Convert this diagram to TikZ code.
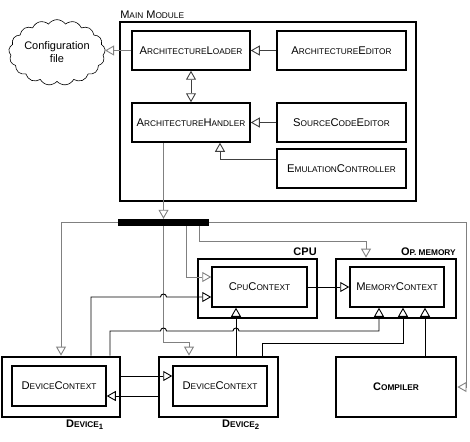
\documentclass[tikz,border=0pt]{standalone}
\usepackage{fontspec}
\setmainfont{Liberation Sans}
\usetikzlibrary{arrows.meta,shapes.symbols}

\newcommand{\lc}[1]{{\fontsize{8.3}{10}\selectfont #1}}

\tikzset{
  outerbox/.style={draw, line width=2.8pt, inner sep=0pt},
  innerbox/.style={draw, line width=1.5pt, inner sep=0pt, minimum width=118pt, minimum height=39pt, font=\fontsize{11.2}{13}\selectfont},
  wire/.style={line width=0.9pt, -{Triangle[open,length=9pt,width=10pt]}},
  busline/.style={wire, gray},
  title/.style={font=\bfseries\fontsize{11}{13}\selectfont, inner sep=1.5pt}
}

\begin{document}
\begin{tikzpicture}[x=1pt, y=-1pt]
  \useasboundingbox (0,0) rectangle (470,441);

  % main module
  \node[outerbox, minimum width=296pt, minimum height=179pt] (main) at (268,111.5) {};
  \node[anchor=south west, inner sep=1.5pt, font=\fontsize{11}{13}\selectfont] at (main.north west) {M\lc{AIN} M\lc{ODULE}};
  \node[innerbox] (loader) at (191,50.5) {A\lc{RCHITECTURE}L\lc{OADER}};
  \node[innerbox, minimum width=129pt] (archeditor) at (341.5,50.5) {A\lc{RCHITECTURE}E\lc{DITOR}};
  \node[innerbox] (handler) at (191,122.5) {A\lc{RCHITECTURE}H\lc{ANDLER}};
  \node[innerbox, minimum width=129pt] (srceditor) at (341.5,122.5) {S\lc{OURCE}C\lc{ODE}E\lc{DITOR}};
  \node[innerbox, minimum width=129pt] (emulator) at (341.5,168.5) {E\lc{MULATION}C\lc{ONTROLLER}};
  \node[cloud, draw, cloud puffs=17, cloud puff arc=110, aspect=1.6, minimum width=85pt, minimum height=55pt,
        inner sep=0pt, line width=0.6pt, align=center, font=\fontsize{11}{13}\selectfont] (config) at (57,52.5) {Configuration\\file};

  \draw[wire, black!75] (archeditor) -- (loader);
  \draw[wire, black!75] (srceditor) -- (handler);
  \draw[wire, black!75] ([yshift=9.5pt]emulator.west) -| ([xshift=29pt]handler.south);
  \draw[wire, black!75, {Triangle[open,length=9pt,width=10pt]}-{Triangle[open,length=9pt,width=10pt]}] (loader) -- (handler);
  \draw[wire, gray] (loader.west) -- (loader.west -| config.east);

  % bus
  \node[fill=black, minimum width=91pt, minimum height=7pt, inner sep=0pt] (bus) at (163.5,222.5) {};

  % cpu and memory
  \node[outerbox, minimum width=119pt, minimum height=59pt] (cpu) at (257.5,288.5) {};
  \node[innerbox, minimum width=95pt, minimum height=40pt] (cpuctx) at (259.5,287) {C\lc{PU}C\lc{ONTEXT}};
  \node[title, anchor=south east] at (cpu.north east) {CPU};
  \node[outerbox, minimum width=120pt, minimum height=59pt] (mem) at (396,288.5) {};
  \node[innerbox, minimum width=94pt, minimum height=40pt] (memctx) at (397,287) {M\lc{EMORY}C\lc{ONTEXT}};
  \node[title, anchor=south east] at (mem.north east) {O\lc{P. MEMORY}};

  % devices and compiler
  \node[outerbox, minimum width=118pt, minimum height=60pt] (dev1) at (61,387) {};
  \node[innerbox, minimum width=94pt, minimum height=40pt] (devctx1) at (59,386) {D\lc{EVICE}C\lc{ONTEXT}};
  \node[title, anchor=north east] at ([xshift=-16pt]dev1.south east) {D\lc{EVICE}\textsubscript{1}};
  \node[outerbox, minimum width=119pt, minimum height=60pt] (dev2) at (218.5,387) {};
  \node[innerbox, minimum width=94pt, minimum height=40pt] (devctx2) at (220,386) {D\lc{EVICE}C\lc{ONTEXT}};
  \node[title, anchor=north east] at ([xshift=-18pt]dev2.south east) {D\lc{EVICE}\textsubscript{2}};
  \node[outerbox, minimum width=120pt, minimum height=60pt, font=\bfseries\fontsize{11}{13}\selectfont] (compiler) at (396,387) {C\lc{OMPILER}};

  \coordinate (rbend) at (466,387);
  \coordinate (membend) at (366,241);
  \coordinate (devbend) at (189,342);
  \coordinate (dev2bend) at (262,343);
  \coordinate (hopA) at (163.5,297);
  \coordinate (hopB) at (163.5,331);
  \coordinate (hopC) at (236,331);

  % bus connections
  \draw[busline] (handler.south -| bus.north) -- (bus.north);
  \draw[busline] (bus.west) -| (dev1.north);
  \draw[busline] (bus.east) -| (rbend) -- (compiler.east);
  \draw[busline] ([xshift=22.5pt]bus.south) |- ([yshift=10pt]cpuctx.west);
  \draw[busline] ([xshift=35.5pt]bus.south) |- (membend) -- ([xshift=-30pt]mem.north);
  \draw[busline] (bus.south) |- (devbend) -- ([xshift=-29.5pt]dev2.north);

  % device connections
  \draw[wire] (cpuctx) -- (memctx);
  \draw[wire] ([yshift=11pt]dev1.east) -- ([yshift=11pt]dev1.east -| devctx2.west);
  \draw[wire] ([yshift=-9pt]dev2.west) -- ([yshift=-9pt]dev2.west -| devctx1.east);
  \draw[wire] ([xshift=30pt]dev1.north) |- ([xshift=-3pt]hopA) arc[start angle=180, end angle=0, radius=3pt] -- ([yshift=-10pt]cpuctx.west);
  \draw[wire] ([xshift=49pt]dev1.north) |- ([xshift=-3pt]hopB) arc[start angle=180, end angle=0, radius=3pt]
    -- ([xshift=-3pt]hopC) arc[start angle=180, end angle=0, radius=3pt] -| ([xshift=-18pt]memctx.south);
  \draw[wire] ([xshift=17.5pt]dev2.north) -- ([xshift=17.5pt]dev2.north |- cpuctx.south);
  \draw[wire] ([xshift=43.5pt]dev2.north) -- (dev2bend) -| ([xshift=6pt]memctx.south);
  \draw[wire] ([xshift=29pt]compiler.north) -- ([xshift=29pt]compiler.north |- memctx.south);
\end{tikzpicture}
\end{document}
